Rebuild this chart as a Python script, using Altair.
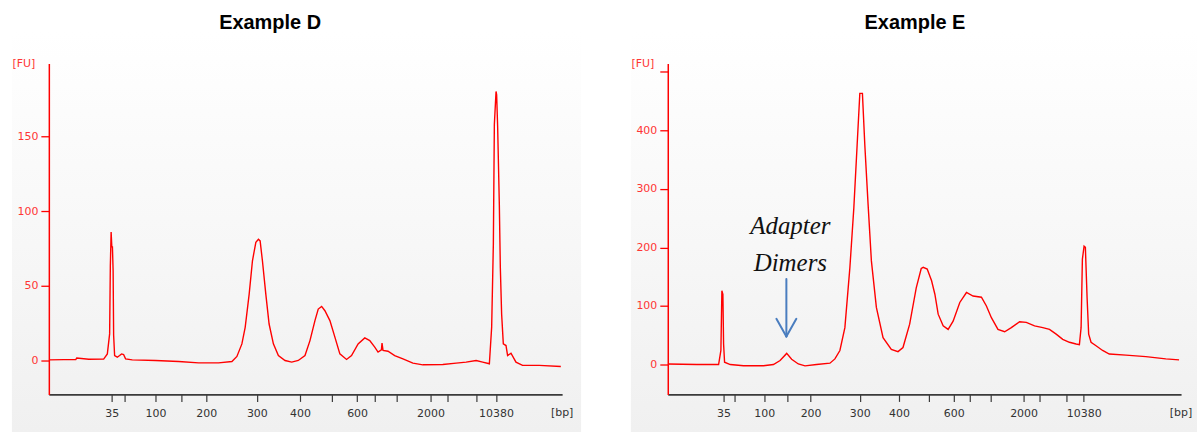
import altair as alt
import pandas as pd

# ---- data (x = relative migration position, y = fluorescence [FU]) ----
ladder_bp = [35, 50, 100, 150, 200, 300, 400, 500, 600, 700, 1000, 2000, 3000, 7000, 10380]
ladder_labels = ["35", "", "100", "", "200", "300", "400", "", "600", "", "", "2000", "", "", "10380"]
left_ladder_pos = [63, 75.7, 107, 133, 158, 208.7, 252, 283.7, 309.3, 327, 349.3, 383, 399.7, 428.7, 448.7]
right_ladder_pos = [56, 66.7, 96.7, 120, 143.3, 192.7, 232, 262.3, 287, 303, 324, 357, 373, 400.3, 417.3]

left_t = [0, 15, 27, 28, 40, 55, 58.7, 61, 61.7, 62.5, 63.2, 63.8, 64.5, 65, 66, 68.7, 71, 73, 75, 77,
          83.7, 107, 130.3, 150.3, 170.3, 183.7, 188.7, 193.7, 197, 201, 204.3, 207.7, 210.3, 212, 214.3,
          217.7, 221, 225.3, 230.3, 237, 243.7, 250.3, 257, 262, 267, 270.3, 273.7, 277, 282, 287, 292,
          298.7, 303.7, 310.3, 317, 322, 327, 330.3, 333.7, 334.3, 335.3, 340.3, 347, 355.3, 365.3, 375.3,
          395.3, 408.7, 418.7, 428.7, 435.3, 442, 444.3, 446, 447, 448.7, 449.3, 450.3, 452, 453, 454.3,
          456, 458.7, 460.3, 463.7, 468.7, 475.3, 492, 513.7]
left_fu = [0.4, 0.6, 0.6, 1.6, 0.8, 0.9, 4.4, 17.8, 63, 86, 76, 76, 60, 17, 3.3, 2.2, 3.3, 4.4, 4.0, 1.1,
           0.4, 0, -0.7, -1.6, -1.6, -0.7, 2.7, 11.1, 22.2, 44.4, 66.7, 79.1, 81.1, 80, 66.7,
           44.4, 24.4, 11.1, 3.3, 0, -1.1, 0, 3.3, 13.3, 26.7, 34.4, 36.2, 33.3, 26.7, 15.6, 4.4,
           0.7, 3.3, 11.1, 15.1, 13.3, 8.9, 5.6, 7.1, 11.6, 6.7, 6.2, 3.3, 1.1, -1.8, -2.9,
           -2.7, -1.8, -1.1, 0, -1.1, -2.2, 22.2, 77.8, 157.8, 180, 177.8, 156.7, 104.4, 62.2, 31.1,
           11.1, 10, 3.3, 4.9, -1.1, -3.3, -3.3, -4]

right_t = [0, 29.3, 51, 53.3, 54.3, 55.3, 56, 57, 62.7, 76, 96, 106, 112.7, 119.3, 124.3, 131, 137.7,
           149.3, 162.7, 167.7, 172.7, 177.7, 182.7, 186.7, 190, 192.7, 195.3, 197.7, 201, 204.3, 209.3,
           216, 224.3, 231, 236, 242.7, 249.3, 254.3, 256.3, 260.3, 264.7, 268, 271.3, 276.3, 281.3,
           286.3, 293, 299.7, 306.3, 314.7, 319.7, 324.7, 331.3, 338, 344.7, 353, 359.7, 368, 376.3,
           383, 389.7, 396.3, 403, 409.7, 413, 414.7, 416, 417.7, 419, 420.7, 422.3, 424.7, 429.7,
           436.3, 443, 459.7, 479.7, 499.7, 513]
right_fu = [1, 0, 0, 24, 126, 120, 35, 4, 0, -2, -2, 0, 6.8, 19, 9, 1, -2.3,
            0, 2.3, 9.6, 24, 63, 165, 268, 375, 463, 463, 375, 273, 177, 97.6,
            46, 26, 22, 29, 69, 131, 164, 166, 163, 143, 120, 86, 66, 60,
            74, 106, 123, 117, 115, 100, 80, 60, 56, 63, 73, 72, 66, 63,
            60, 52, 43, 38, 35, 34, 63, 180, 202, 200, 115, 52, 38, 32,
            24, 18, 16, 13.6, 9.6, 8]

titles = ["Example D", "Example E"]
annot_text = ["Adapter", "Dimers"]
annot_t = [123, 123]
annot_fu = [236.6, 173.6]
arrow_t = [119, 109, 129]
arrow_fu_start = [146, 78, 78]
arrow_t_end = [119, 119, 119]
arrow_fu_end = [48, 48, 48]

RED = "#ff0000"
LABEL_RED = "#ff3535"
DARK = "#3a3a3a"
FONT = "DejaVu Sans"
W, H = 515, 332

grad = alt.LinearGradient(
    gradient="linear",
    stops=[alt.GradientStop(color="#ffffff", offset=0),
           alt.GradientStop(color="#ffffff", offset=0.07),
           alt.GradientStop(color="#f0f0f0", offset=1)],
    x1=0, x2=0, y1=0, y2=1,
)


def x_label_expr(pos):
    labs = ",".join("'" + s + "'" for s in ladder_labels)
    vals = ",".join(str(v) for v in pos)
    return "[" + labs + "][indexof([" + vals + "], datum.value)]"


def panel(t, fu, ladder_pos, ydom, yvals, title, bg_x2, annotate=False):
    xaxis = alt.Axis(values=ladder_pos, labelExpr=x_label_expr(ladder_pos), title=None,
                     grid=False, domainColor=DARK, domainWidth=1.6, tickColor=DARK,
                     tickWidth=1.2, tickSize=7, labelColor="#333333", labelFont=FONT,
                     labelFontSize=11, labelPadding=6, labelOverlap=False, labelFlush=False,
                     zindex=1)
    yaxis = alt.Axis(values=yvals,
                     labelExpr="datum.value > " + str(ydom[1] - 20) + " ? '' : datum.label",
                     title=None, grid=False, domainColor=RED, domainWidth=1.5,
                     tickColor=RED, tickWidth=1.3, tickSize=8, labelColor=LABEL_RED,
                     labelFont=FONT, labelFontSize=11, labelPadding=3, labelOverlap=False,
                     zindex=1)
    xs = alt.Scale(domain=[0, 515], nice=False, zero=False)
    ys = alt.Scale(domain=ydom, nice=False, zero=False)

    def X(f):
        return alt.X(f, scale=xs, axis=xaxis)

    def Y(f):
        return alt.Y(f, scale=ys, axis=yaxis)

    df = pd.DataFrame({"t": t, "fu": fu})
    one = pd.DataFrame({"a": [0]})
    bg = alt.Chart(one).mark_rect(fill=grad, stroke=None).encode(
        x=alt.value(-37), x2=alt.value(bg_x2), y=alt.value(-62), y2=alt.value(370))
    line = alt.Chart(df).mark_line(color=RED, strokeWidth=1.4, clip=True).encode(
        x=X("t:Q"), y=Y("fu:Q"))
    fu_txt = alt.Chart(one).mark_text(text="[FU]", font=FONT, fontSize=11, color=LABEL_RED,
                                      align="center", baseline="middle").encode(
        x=alt.value(-25), y=alt.value(1))
    bp_txt = alt.Chart(one).mark_text(text="[bp]", font=FONT, fontSize=11, color="#333333",
                                      align="center", baseline="middle").encode(
        x=alt.value(515), y=alt.value(351))
    ttl = alt.Chart(pd.DataFrame({"title": [title[0]]})).mark_text(
        font="Liberation Sans", fontWeight="bold", fontSize=20, color="#000000",
        align="center", baseline="middle").encode(
        text="title:N", x=alt.value(title[1]), y=alt.value(-41))
    layers = [bg, line, fu_txt, bp_txt, ttl]
    if annotate:
        adf = pd.DataFrame({"t": annot_t, "fu": annot_fu, "txt": annot_text})
        annot = alt.Chart(adf).mark_text(font="Liberation Serif", fontStyle="italic", fontSize=25,
                                         color="#111111", align="center", baseline="middle").encode(
            x=X("t:Q"), y=Y("fu:Q"), text="txt:N")
        arr = pd.DataFrame({"t": arrow_t, "fu": arrow_fu_start, "t2": arrow_t_end, "fu2": arrow_fu_end})
        arrow = alt.Chart(arr).mark_rule(color="#4a7dbf", strokeWidth=2, strokeCap="round").encode(
            x=X("t:Q"), y=Y("fu:Q"), x2="t2:Q", y2="fu2:Q")
        layers += [annot, arrow]
    return alt.layer(*layers).properties(width=W, height=H)


left = panel(left_t, left_fu, left_ladder_pos, [-22.7, 198.7], [0, 50, 100, 150],
             (titles[0], 222), 534)
right = panel(right_t, right_fu, right_ladder_pos, [-51, 514], [0, 100, 200, 300, 400, 500],
              (titles[1], 248), 531, annotate=True)

chart = alt.hconcat(left, right, spacing=48).properties(
    padding={"left": 11, "top": 0, "right": 0, "bottom": 0}
).configure_view(strokeWidth=0).configure_axis(labelOverlap=False).configure(background="#ffffff")

chart.save("out.html", embed_options={"renderer": "svg", "actions": False})
